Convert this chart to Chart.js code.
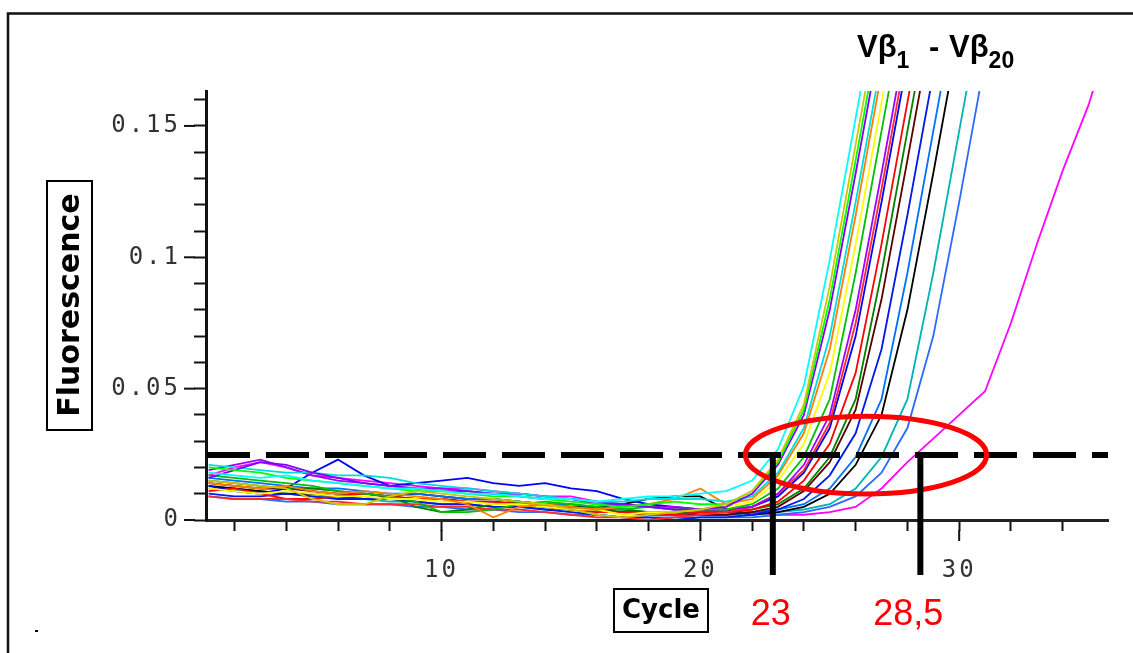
<!DOCTYPE html>
<html>
<head>
<meta charset="utf-8">
<title>Vβ1 - Vβ20 amplification</title>
<script src="https://cdn.jsdelivr.net/npm/chart.js@4.4.1/dist/chart.umd.min.js"></script>
<style>
    html, body { margin: 0; padding: 0; background: #fff; }
    canvas { display: block; }
</style>
</head>
<body>
<canvas id="pcr-chart" width="1133" height="653"></canvas>
<script>
// cycle numbers (x values)
const cycles = [1, 2, 3, 4, 5, 6, 7, 8, 9, 10, 11, 12, 13, 14, 15, 16, 17, 18,
    19, 20, 21, 22, 23, 24, 25, 26, 27, 28, 29, 30, 31, 32, 33, 34, 35, 36];

// fluorescence per cycle, one array per well
const cyanRun = [0.018, 0.017, 0.016, 0.017, 0.015, 0.014, 0.013, 0.012, 0.012, 0.011, 0.010, 0.010, 0.009, 0.008, 0.008, 0.007, 0.008, 0.009, 0.009, 0.010, 0.011, 0.015, 0.027, 0.051, 0.099, 0.153, 0.207];
const oliveRun = [0.015, 0.014, 0.013, 0.012, 0.008, 0.006, 0.006, 0.009, 0.011, 0.010, 0.009, 0.008, 0.007, 0.006, 0.004, 0.002, 0.001, 0.002, 0.003, 0.004, 0.006, 0.011, 0.023, 0.044, 0.089, 0.143, 0.197];
const greenRun = [0.020, 0.019, 0.018, 0.016, 0.015, 0.014, 0.013, 0.012, 0.011, 0.011, 0.010, 0.009, 0.009, 0.008, 0.007, 0.006, 0.005, 0.006, 0.007, 0.006, 0.006, 0.011, 0.022, 0.042, 0.084, 0.137, 0.191];
const violetRun = [0.016, 0.019, 0.022, 0.021, 0.018, 0.016, 0.014, 0.013, 0.012, 0.011, 0.011, 0.010, 0.009, 0.008, 0.008, 0.006, 0.006, 0.005, 0.004, 0.004, 0.005, 0.010, 0.021, 0.040, 0.080, 0.132, 0.186];
const aquaRun = [0.021, 0.020, 0.019, 0.018, 0.018, 0.017, 0.017, 0.016, 0.014, 0.013, 0.012, 0.011, 0.010, 0.009, 0.008, 0.007, 0.007, 0.008, 0.008, 0.008, 0.007, 0.009, 0.018, 0.035, 0.070, 0.121, 0.175];
const orangeRun = [0.014, 0.013, 0.012, 0.013, 0.011, 0.010, 0.011, 0.010, 0.009, 0.008, 0.006, 0.001, 0.005, 0.006, 0.005, 0.004, 0.005, 0.006, 0.008, 0.012, 0.006, 0.008, 0.017, 0.033, 0.065, 0.116, 0.170];
const yellowRun = [0.012, 0.011, 0.010, 0.011, 0.010, 0.009, 0.009, 0.008, 0.008, 0.007, 0.007, 0.006, 0.006, 0.005, 0.004, 0.004, 0.002, 0.003, 0.003, 0.004, 0.005, 0.007, 0.015, 0.029, 0.056, 0.105, 0.159, 0.212];
const limeRun = [0.017, 0.016, 0.015, 0.014, 0.013, 0.011, 0.010, 0.009, 0.007, 0.003, 0.003, 0.004, 0.006, 0.007, 0.006, 0.005, 0.004, 0.005, 0.004, 0.004, 0.004, 0.006, 0.012, 0.024, 0.046, 0.094, 0.148, 0.202];
const purpleRun = [0.019, 0.021, 0.023, 0.020, 0.017, 0.015, 0.014, 0.013, 0.012, 0.012, 0.011, 0.010, 0.010, 0.009, 0.008, 0.007, 0.006, 0.005, 0.005, 0.004, 0.004, 0.005, 0.010, 0.021, 0.040, 0.080, 0.132, 0.186];
const scarletRun = [0.009, 0.008, 0.008, 0.008, 0.007, 0.007, 0.006, 0.006, 0.006, 0.005, 0.005, 0.004, 0.004, 0.003, 0.002, 0.001, 0.001, 0.000, 0.001, 0.002, 0.003, 0.005, 0.010, 0.019, 0.037, 0.075, 0.126, 0.180];
const blueRun = [0.013, 0.011, 0.010, 0.012, 0.018, 0.023, 0.017, 0.013, 0.014, 0.015, 0.016, 0.014, 0.013, 0.014, 0.012, 0.011, 0.008, 0.006, 0.005, 0.004, 0.004, 0.005, 0.009, 0.018, 0.035, 0.070, 0.121, 0.175];
const redRun = [0.011, 0.012, 0.010, 0.008, 0.008, 0.009, 0.010, 0.009, 0.008, 0.008, 0.007, 0.007, 0.006, 0.005, 0.004, 0.003, 0.003, 0.002, 0.002, 0.003, 0.003, 0.004, 0.007, 0.015, 0.029, 0.056, 0.105, 0.159, 0.212];
const forestRun = [0.015, 0.014, 0.013, 0.012, 0.012, 0.011, 0.010, 0.009, 0.005, 0.003, 0.004, 0.006, 0.007, 0.006, 0.005, 0.004, 0.004, 0.003, 0.003, 0.003, 0.003, 0.004, 0.006, 0.012, 0.024, 0.046, 0.094, 0.148, 0.202];
const brownRun = [0.014, 0.013, 0.012, 0.012, 0.011, 0.010, 0.010, 0.009, 0.008, 0.008, 0.007, 0.007, 0.006, 0.005, 0.004, 0.004, 0.003, 0.003, 0.003, 0.002, 0.002, 0.003, 0.005, 0.011, 0.022, 0.042, 0.084, 0.137, 0.191];
const navyRun = [0.010, 0.009, 0.009, 0.010, 0.009, 0.008, 0.008, 0.008, 0.007, 0.006, 0.006, 0.005, 0.005, 0.004, 0.003, 0.002, 0.001, 0.001, 0.000, 0.001, 0.001, 0.002, 0.004, 0.008, 0.017, 0.033, 0.065, 0.116, 0.170];
const skyRun = [0.016, 0.015, 0.014, 0.013, 0.012, 0.012, 0.011, 0.010, 0.010, 0.009, 0.008, 0.008, 0.007, 0.006, 0.006, 0.005, 0.004, 0.003, 0.002, 0.002, 0.002, 0.003, 0.004, 0.006, 0.012, 0.024, 0.046, 0.094, 0.148, 0.202];
const blackRun = [0.013, 0.012, 0.011, 0.010, 0.010, 0.009, 0.008, 0.009, 0.010, 0.009, 0.008, 0.008, 0.007, 0.006, 0.005, 0.005, 0.006, 0.008, 0.009, 0.009, 0.004, 0.002, 0.003, 0.005, 0.010, 0.021, 0.040, 0.080, 0.132, 0.186];
const tealRun = [0.012, 0.011, 0.011, 0.010, 0.009, 0.009, 0.008, 0.007, 0.007, 0.006, 0.006, 0.005, 0.005, 0.004, 0.004, 0.003, 0.003, 0.002, 0.002, 0.002, 0.002, 0.002, 0.003, 0.004, 0.006, 0.012, 0.024, 0.046, 0.094, 0.148, 0.202];
const cobaltRun = [0.009, 0.008, 0.008, 0.007, 0.007, 0.006, 0.006, 0.006, 0.005, 0.005, 0.004, 0.004, 0.003, 0.003, 0.002, 0.002, 0.001, 0.001, 0.001, 0.001, 0.001, 0.001, 0.002, 0.003, 0.005, 0.009, 0.018, 0.035, 0.070, 0.121, 0.175];
const magentaRun = [0.017, 0.020, 0.022, 0.020, 0.017, 0.016, 0.015, 0.014, 0.013, 0.012, 0.012, 0.011, 0.010, 0.009, 0.009, 0.007, 0.006, 0.005, 0.004, 0.004, 0.003, 0.003, 0.002, 0.002, 0.003, 0.005, 0.012, 0.022, 0.031, 0.040, 0.049, 0.075, 0.105, 0.133, 0.158, 0.190];

const runs = [cyanRun, oliveRun, greenRun, violetRun, aquaRun, orangeRun, yellowRun, limeRun, purpleRun, scarletRun,
    blueRun, redRun, forestRun, brownRun, navyRun, skyRun, blackRun, tealRun, cobaltRun, magentaRun];
const runColors = ['#00ffff', '#c8c800', '#00ff00', '#8000ff', '#00dcdc', '#ff8000', '#ffff00', '#00c000', '#a000ff', '#ff2a2a',
    '#0000ff', '#ff0000', '#008000', '#5a0000', '#0018e8', '#0070ff', '#000000', '#00b4b4', '#2a6aff', '#ff00ff'];

// threshold and the two Ct marks drawn on top
const threshold = 0.0247;
const ctMarks = [22.8, 28.5];
const ctLabels = ['23', '28,5'];
const ringCenter = 26.4;
const ringHalfWidth = 4.66;
const ringHalfHeight = 0.0148;

const ctx = document.getElementById('pcr-chart').getContext('2d');

// spaced out tick digits, reset before the curves are drawn
const tickSpacingPlugin = {
    id: 'tickSpacing',
    beforeDraw(chart) {
        chart.ctx.letterSpacing = '3px';
    },
    beforeDatasetsDraw(chart) {
        chart.ctx.letterSpacing = '0px';
    }
};

const markupPlugin = {
    id: 'markup',
    afterDatasetsDraw(chart) {
        const { ctx, chartArea: { left, right }, scales: { x, y } } = chart;
        const ty = y.getPixelForValue(threshold);
        ctx.save();

        // dashed threshold
        ctx.strokeStyle = '#000';
        ctx.lineWidth = 6;
        ctx.setLineDash([43, 16]);
        ctx.beginPath();
        ctx.moveTo(left + 1, ty);
        ctx.lineTo(right, ty);
        ctx.stroke();
        ctx.setLineDash([]);

        // red ring round the crossings
        const cx = x.getPixelForValue(ringCenter);
        const rx = x.getPixelForValue(ringCenter + ringHalfWidth) - cx;
        const ry = ty - y.getPixelForValue(threshold + ringHalfHeight);
        ctx.strokeStyle = '#ff0000';
        ctx.lineWidth = 5;
        ctx.beginPath();
        ctx.ellipse(cx, ty, rx, ry, 0, 0, Math.PI * 2);
        ctx.stroke();

        // Ct drop lines
        ctx.strokeStyle = '#000';
        ctx.lineWidth = 6;
        ctMarks.forEach(c => {
            const px = x.getPixelForValue(c);
            ctx.beginPath();
            ctx.moveTo(px, ty - 3);
            ctx.lineTo(px, 575);
            ctx.stroke();
        });
        ctx.restore();
    },
    afterDraw(chart) {
        const { ctx, chartArea: { left, bottom }, scales: { x, y } } = chart;
        ctx.save();
        ctx.letterSpacing = '0px';

        // longer ticks at the labelled values
        ctx.strokeStyle = '#111';
        ctx.lineWidth = 2;
        x.ticks.forEach(t => {
            if (t.value % 10 === 0) {
                const px = x.getPixelForValue(t.value);
                ctx.beginPath();
                ctx.moveTo(px, bottom + 10);
                ctx.lineTo(px, bottom + 21);
                ctx.stroke();
            }
        });
        y.ticks.forEach(t => {
            if (Math.round(t.value * 100) % 5 === 0) {
                const py = y.getPixelForValue(t.value);
                ctx.beginPath();
                ctx.moveTo(left - 11, py);
                ctx.lineTo(left - 22, py);
                ctx.stroke();
            }
        });

        // boxed axis titles
        ctx.fillStyle = '#000';
        ctx.strokeStyle = '#000';
        ctx.lineWidth = 2;
        ctx.strokeRect(47, 181, 45, 249);
        ctx.save();
        ctx.translate(70, 305);
        ctx.rotate(-Math.PI / 2);
        ctx.font = 'bold 30px "DejaVu Sans"';
        ctx.textAlign = 'center';
        ctx.textBaseline = 'middle';
        ctx.fillText('Fluorescence', 0, 1);
        ctx.restore();

        ctx.strokeRect(614, 589, 94, 43);
        ctx.font = 'bold 26px "DejaVu Sans"';
        ctx.textAlign = 'center';
        ctx.textBaseline = 'middle';
        ctx.fillText('Cycle', 661, 611);

        // red Ct values
        ctx.fillStyle = '#ff0000';
        ctx.font = '36px "Liberation Sans"';
        ctx.textBaseline = 'alphabetic';
        const labelShift = [-2, -12];
        ctMarks.forEach((c, i) => {
            ctx.fillText(ctLabels[i], x.getPixelForValue(c) + labelShift[i], 625);
        });

        // title V beta 1 - V beta 20
        ctx.fillStyle = '#000';
        ctx.textAlign = 'left';
        const big = 'bold 31px "Liberation Sans"';
        const small = 'bold 23px "Liberation Sans"';
        let tx = 857;
        ctx.font = big;
        ctx.fillText('Vβ', tx, 57);
        tx += ctx.measureText('Vβ').width;
        ctx.font = small;
        ctx.fillText('1', tx, 68);
        ctx.font = big;
        ctx.fillText('-', 929, 57);
        tx = 949;
        ctx.fillText('Vβ', tx, 57);
        tx += ctx.measureText('Vβ').width;
        ctx.font = small;
        ctx.fillText('20', tx, 68);

        // outer frame
        ctx.strokeStyle = '#111';
        ctx.lineWidth = 2.5;
        ctx.beginPath();
        ctx.moveTo(8, 653);
        ctx.lineTo(8, 13.5);
        ctx.lineTo(1133, 13.5);
        ctx.stroke();
        ctx.fillStyle = '#000';
        ctx.fillRect(35, 630, 3, 2);
        ctx.restore();
    }
};

const pcrChart = new Chart(ctx, {
    type: 'line',
    data: {
        datasets: runs.map((vals, i) => ({
            data: vals.map((v, k) => ({ x: cycles[k], y: v })),
            borderColor: runColors[i],
            borderWidth: 1.8,
            pointRadius: 0,
            tension: 0,
            fill: false,
            clip: 0
        }))
    },
    options: {
        responsive: false,
        animation: false,
        devicePixelRatio: 1,
        layout: {
            padding: { left: 0, top: 91, right: 25, bottom: 0 }
        },
        plugins: {
            legend: { display: false },
            tooltip: { enabled: false }
        },
        scales: {
            x: {
                type: 'linear',
                min: 0.9,
                max: 35.75,
                afterFit(scale) { scale.height = 133; },
                border: { display: true, color: '#222', width: 3 },
                grid: {
                    display: true,
                    drawOnChartArea: false,
                    drawTicks: true,
                    tickLength: 11,
                    tickColor: '#111',
                    tickWidth: 2
                },
                ticks: {
                    stepSize: 2,
                    includeBounds: false,
                    autoSkip: false,
                    maxRotation: 0,
                    padding: 25,
                    color: '#333',
                    font: { family: 'DejaVu Sans Mono', size: 24 },
                    callback: (v) => (v % 10 === 0 ? String(v) : '')
                }
            },
            y: {
                min: 0,
                max: 0.1633,
                afterFit(scale) { scale.width = 206; },
                border: { display: true, color: '#111', width: 3 },
                grid: {
                    display: true,
                    drawOnChartArea: false,
                    drawTicks: true,
                    tickLength: 12,
                    tickColor: '#111',
                    tickWidth: 2
                },
                ticks: {
                    stepSize: 0.01,
                    includeBounds: false,
                    autoSkip: false,
                    padding: 13,
                    color: '#333',
                    font: { family: 'DejaVu Sans Mono', size: 24 },
                    callback: (v) => {
                        const hundredths = Math.round(v * 100);
                        if (hundredths % 5 !== 0) return '';
                        return String(hundredths / 100);
                    }
                }
            }
        }
    },
    plugins: [tickSpacingPlugin, markupPlugin]
});
</script>
</body>
</html>
